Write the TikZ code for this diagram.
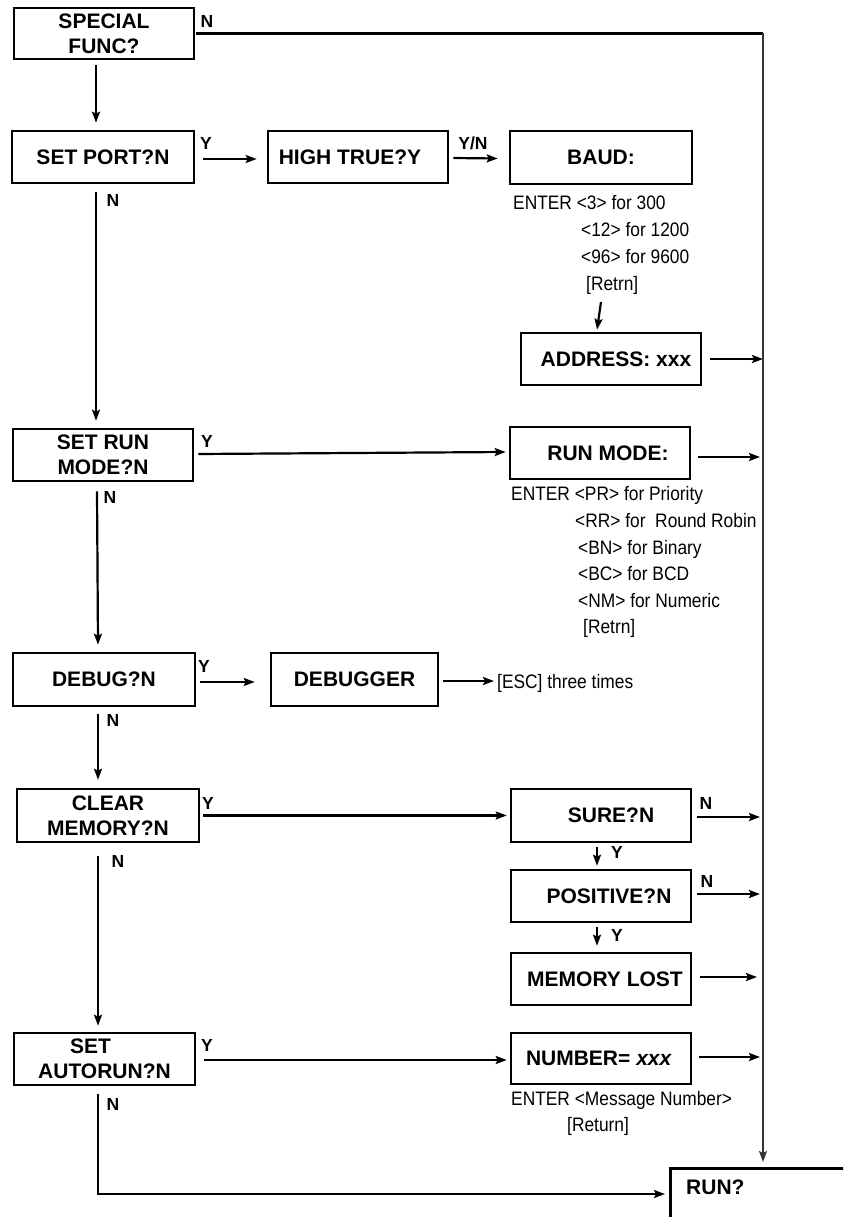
\documentclass[tikz,border=0pt]{standalone}
\usepackage{fontspec}
\setmainfont{Liberation Sans}
\newfontfamily\narrowfont[FakeStretch=0.89]{Liberation Sans}
\usetikzlibrary{arrows.meta}
\begin{document}
\begin{tikzpicture}[x=1pt,y=-1pt,
  box/.style={draw, line width=2.6pt, inner sep=0pt, align=center,
    font=\bfseries\fontsize{21}{25}\selectfont},
  boxtxt/.style={inner sep=0pt, font=\bfseries\fontsize{21}{25}\selectfont},
  lbl/.style={inner sep=0pt, font=\bfseries\fontsize{17.5}{20}\selectfont},
  note/.style={inner sep=0pt, anchor=base west, font=\narrowfont\fontsize{19.5}{27}\selectfont},
  ln/.style={line width=2.2pt},
  arr/.style={line width=2.2pt, -{Stealth[length=11pt,width=8pt,inset=2pt]}},
  busarr/.style={line width=1.7pt, draw=black!80, -{Stealth[length=11pt,width=8pt,inset=2pt]}}]
\useasboundingbox (0,0) rectangle (843,1217);
\clip (0,0) rectangle (843,1217);

% boxes
\node[box, minimum width=180pt, minimum height=51pt] (special) at (104,33.5) {SPECIAL\\FUNC?};
\node[box, minimum width=182pt, minimum height=52pt] (setport) at (103,157) {SET PORT?N};
\node[box, minimum width=180pt, minimum height=52pt] (hightrue) at (358,157) {HIGH TRUE?Y\hspace*{16pt}};
\node[box, minimum width=182pt, minimum height=53pt] (baud) at (601,157.5) {BAUD:};
\node[box, minimum width=180pt, minimum height=52pt] (address) at (611,359) {\hspace*{10pt}ADDRESS: xxx};
\node[box, minimum width=180pt, minimum height=52pt] (setrun) at (103,455) {SET RUN\\MODE?N};
\node[box, minimum width=180pt, minimum height=52pt] (runmode) at (600,453) {\hspace*{16pt}RUN MODE:};
\node[box, minimum width=182pt, minimum height=53pt] (debug) at (104,679.5) {DEBUG?N};
\node[box, minimum width=167pt, minimum height=53pt] (debugger) at (354.5,679.5) {DEBUGGER};
\node[box, minimum width=182pt, minimum height=53pt] (clear) at (108,815.5) {CLEAR\\MEMORY?N};
\node[box, minimum width=180pt, minimum height=53pt] (sure) at (601,815.5) {\hspace*{20pt}SURE?N};
\node[box, minimum width=180pt, minimum height=52pt] (positive) at (601,896) {\hspace*{16pt}POSITIVE?N};
\node[box, minimum width=180pt, minimum height=52pt] (memlost) at (601,979) {\hspace*{8pt}MEMORY LOST};
\node[box, minimum width=181pt, minimum height=52pt] (autorun) at (104.5,1059) {SET\hspace*{28pt}\\AUTORUN?N};
\node[box, minimum width=180pt, minimum height=51pt] (number) at (601,1058.5) {NUMBER= \textit{xxx}\hspace*{4pt}};
\node[draw, line width=2.6pt, inner sep=0pt, anchor=north west, minimum width=220pt, minimum height=120pt] (run) at (669,1167) {};
\node[boxtxt, anchor=west] (runtxt) at (686,1187) {RUN?};

% notes
\node[note] (b1) at (513,209) {ENTER <3> for 300};
\node[note] (b2) at (581,236) {<12> for 1200};
\node[note] (b3) at (581,263) {<96> for 9600};
\node[note] (b4) at (586,290) {[Retrn]};
\node[note] (r1) at (511,500) {ENTER <PR> for Priority};
\node[note] (r2) at (575,527) {<RR> for\ \ Round Robin};
\node[note] (r3) at (578,554) {<BN> for Binary};
\node[note] (r4) at (578,580) {<BC> for BCD};
\node[note] (r5) at (578,607) {<NM> for Numeric};
\node[note] (r6) at (583,633) {[Retrn]};
\node[note] (esc) at (497,688) {[ESC] three times};
\node[note] (n1) at (511,1105) {ENTER <Message Number>};
\node[note] (n2) at (567,1131) {[Return]};

% labels
\node[lbl] (l1) at (207,21) {N};
\node[lbl] (l2) at (206,143) {Y};
\node[lbl] (l3) at (113,200) {N};
\node[lbl] (l4) at (473,143) {Y/N};
\node[lbl] (l5) at (207,441) {Y};
\node[lbl] (l6) at (110,497) {N};
\node[lbl] (l7) at (204,666) {Y};
\node[lbl] (l8) at (113,720) {N};
\node[lbl] (l9) at (208,803) {Y};
\node[lbl] (l10) at (118,861) {N};
\node[lbl] (l11) at (706,803) {N};
\node[lbl] (l12) at (617,852) {Y};
\node[lbl] (l13) at (707,881) {N};
\node[lbl] (l14) at (617,935) {Y};
\node[lbl] (l15) at (207,1045) {Y};
\node[lbl] (l16) at (113,1104) {N};

% bus line
\coordinate (busx) at (763,0);
\coordinate (bus0) at (special.east -| busx);
\draw[ln] ([xshift=1pt]special.east) -- (bus0);
\draw[busarr, shorten >=5pt] (bus0) -- (busx |- run.north);

% connectors
\draw[arr] ([xshift=-8pt,yshift=-5pt]special.south) -- ([xshift=-7pt,yshift=7pt]setport.north);
\draw[arr] ([xshift=8pt,yshift=-2pt]setport.east) -- ([xshift=-10pt,yshift=-2pt]hightrue.west);
\draw[arr] ([xshift=4pt,yshift=-1pt]hightrue.east) -- ([xshift=-11pt,yshift=-1pt]baud.west);
\coordinate (bd) at (601,302);
\draw[arr] (bd) -- ([xshift=-14pt,yshift=2pt]address.north);
\coordinate (a1) at ([xshift=8pt]address.east);
\draw[arr] (a1) -- (a1 -| busx);
\draw[arr] ([xshift=-7pt,yshift=-8pt]setport.south) -- ([xshift=-7pt,yshift=7pt]setrun.north);
\draw[arr] ([xshift=4pt,yshift=1pt]setrun.east) -- ([xshift=-3pt,yshift=1pt]runmode.west);
\coordinate (rm) at ([xshift=7pt,yshift=-4pt]runmode.east);
\draw[arr, shorten >=3pt] (rm) -- (rm -| busx);
\draw[arr] ([xshift=-6pt,yshift=-9pt]setrun.south) -- ([xshift=-6pt,yshift=7pt]debug.north);
\draw[arr] ([xshift=4pt,yshift=-2.5pt]debug.east) -- ([xshift=-15pt,yshift=-2.5pt]debugger.west);
\coordinate (e1) at ([xshift=4pt,yshift=-1.5pt]debugger.east);
\draw[arr, shorten >=3pt] (e1) -- (e1 -| esc.west);
\draw[arr] ([xshift=-6pt,yshift=-7pt]debug.south) -- ([xshift=-10pt,yshift=8pt]clear.north);
\draw[arr] ([xshift=3pt]clear.east) -- ([xshift=-3pt]sure.west);
\coordinate (s1) at ([xshift=5pt,yshift=-1.5pt]sure.east);
\draw[arr, shorten >=3pt] (s1) -- (s1 -| busx);
\draw[arr] ([xshift=-4pt,yshift=-4pt]sure.south) -- ([xshift=-4pt,yshift=3pt]positive.north);
\coordinate (p1) at ([xshift=5pt,yshift=2pt]positive.east);
\draw[arr, shorten >=3pt] (p1) -- (p1 -| busx);
\draw[arr] ([xshift=-4pt,yshift=-4pt]positive.south) -- ([xshift=-4pt,yshift=6pt]memlost.north);
\coordinate (m1) at ([xshift=8pt,yshift=2pt]memlost.east);
\draw[arr, shorten >=6pt] (m1) -- (m1 -| busx);
\draw[arr] ([xshift=-10pt,yshift=-13pt]clear.south) -- ([xshift=-6.5pt,yshift=6pt]autorun.north);
\coordinate (u1) at ([xshift=8pt,yshift=-1pt]autorun.east);
\draw[arr, shorten >=3pt] (u1) -- (u1 -| number.west);
\coordinate (nb) at ([xshift=7pt,yshift=1.5pt]number.east);
\draw[arr, shorten >=3pt] (nb) -- (nb -| busx);
\draw[arr] ([xshift=-6.5pt,yshift=-8pt]autorun.south) |- ([xshift=-4pt,yshift=-27pt]run.north west);
\end{tikzpicture}
\end{document}
